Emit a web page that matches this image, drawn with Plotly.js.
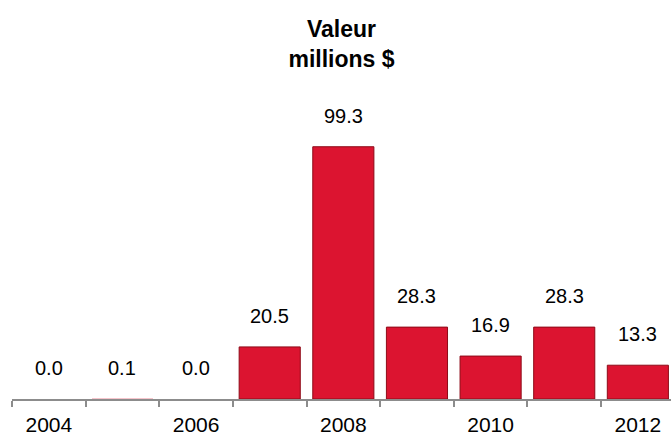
<!DOCTYPE html>
<html>
<head>
<meta charset="utf-8">
<script src="https://cdn.plot.ly/plotly-3.0.1.min.js"></script>
<style>html,body{margin:0;padding:0;background:#fff;overflow:hidden}#chart{width:671px;height:436px}</style>
</head>
<body>
<div id="chart"></div>
<script>
var years = [2004, 2005, 2006, 2007, 2008, 2009, 2010, 2011, 2012];
var values = [0.0, 0.1, 0.0, 20.5, 99.3, 28.3, 16.9, 28.3, 13.3];
var labelYears = [2004, 2006, 2008, 2010, 2012];
var titleLines = ['Valeur', 'millions $'];

var font = 'Arial, "Liberation Sans", sans-serif';
var boundaries = years.map(function(y){return y - 0.5;}).concat([years[years.length-1] + 0.5]);

var trace = {
  type: 'bar',
  x: years,
  y: values,
  marker: {
    color: '#DC1430',
    line: {color: '#8E0B18', width: values.map(function(v){return v < 1 ? 0 : 1;})}
  },
  hoverinfo: 'x+y'
};

var annotations = years.map(function(y, i){
  return {
    x: y, y: values[i], xref: 'x', yref: 'y',
    text: values[i].toFixed(1), showarrow: false,
    yanchor: 'bottom', yshift: 18,
    font: {family: font, size: 20, color: '#000'}
  };
});

var layout = {
  width: 671, height: 436,
  margin: {l: 12, r: 0, t: 100, b: 37},
  paper_bgcolor: '#fff', plot_bgcolor: '#fff',
  showlegend: false,
  bargap: 0.17,
  title: {
    text: titleLines.map(function(s){return '<b>' + s + '</b>';}).join('<br>'),
    x: 0.5, xref: 'paper', xanchor: 'center',
    y: 0.915, yref: 'container', yanchor: 'top',
    font: {family: font, size: 23, color: '#000'}
  },
  xaxis: {
    range: [2003.5, 2012.45],
    tickvals: labelYears,
    ticktext: labelYears.map(String),
    ticks: '',
    showgrid: false, zeroline: false,
    showline: true, linecolor: '#8c8c8c', linewidth: 2,
    tickfont: {family: font, size: 21, color: '#000'},
    ticklabelstandoff: 6,
    minor: {tickvals: boundaries, ticks: 'outside', ticklen: 6, tickwidth: 2, tickcolor: '#8c8c8c', showgrid: false}
  },
  yaxis: {
    range: [0, 117.7],
    visible: false, showgrid: false, zeroline: false
  },
  annotations: annotations
};

Plotly.newPlot('chart', [trace], layout, {displayModeBar: false, staticPlot: true});
</script>
</body>
</html>
